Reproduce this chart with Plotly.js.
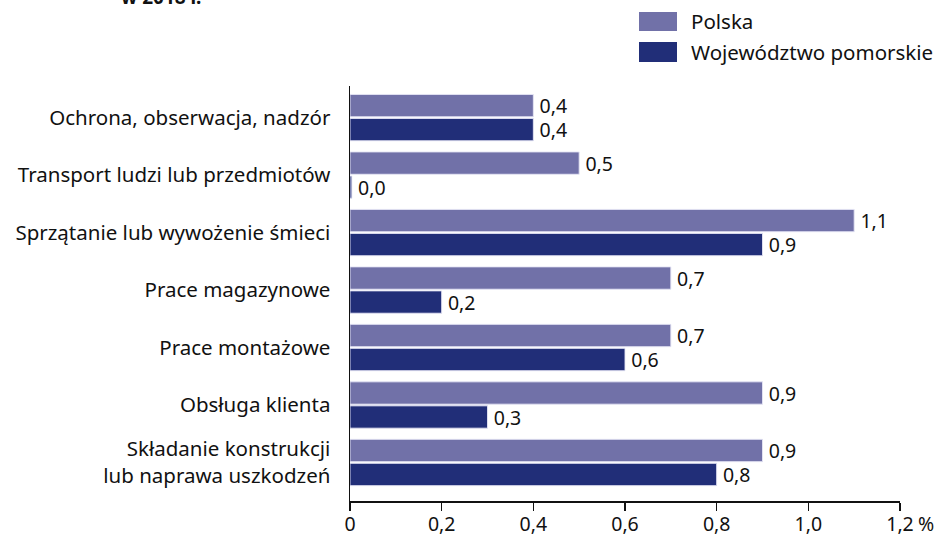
<!DOCTYPE html>
<html><head><meta charset="utf-8">
<script src="https://cdn.plot.ly/plotly-3.0.1.min.js"></script>
<style>html,body{margin:0;padding:0;background:#fff}#chart{width:939px;height:538px}</style>
</head><body><div id="chart"></div>
<script>
const categories = [
  "Ochrona, obserwacja, nadzór",
  "Transport ludzi lub przedmiotów",
  "Sprzątanie lub wywożenie śmieci",
  "Prace magazynowe",
  "Prace montażowe",
  "Obsługa klienta",
  "Składanie konstrukcji<br>lub naprawa uszkodzeń"
];
const polska = [0.4, 0.5, 1.1, 0.7, 0.7, 0.9, 0.9];
const pomorskie = [0.4, 0.004, 0.9, 0.2, 0.6, 0.3, 0.8];
const seriesNames = ["Polska", "Województwo pomorskie"];
const seriesColors = ["#7171a8", "#212e78"];
const tickVals = [0, 0.2, 0.4, 0.6, 0.8, 1.0, 1.2];
const tickText = ["0", "0,2", "0,4", "0,6", "0,8", "1,0", "1,2"];
const titleText = "w 2018 r.";

const FONT = "'Noto Sans', 'Open Sans', sans-serif";
const FS = 20.5;
const fmt = v => '\u2009' + v.toFixed(1).replace('.', ',');

function barTrace(vals, name, color) {
  return {
    type: 'bar', orientation: 'h', name: name,
    y: categories, x: vals,
    marker: {color: color, line: {color: 'rgba(230,230,245,0.9)', width: 1}},
    text: vals.map(fmt), textposition: 'outside', constraintext: 'none',
    cliponaxis: false,
    textfont: {family: FONT, size: 19.5, color: '#111'},
    hoverinfo: 'skip'
  };
}

const L = 350, R = 900, T = 86, B = 501;
const px = x => (x - L) / (R - L);
const py = y => (B - y) / (B - T);

const shapes = [
  {type: 'rect', xref: 'paper', yref: 'paper', x0: px(639), x1: px(677), y0: py(31), y1: py(12), fillcolor: seriesColors[0], line: {width: 0}},
  {type: 'rect', xref: 'paper', yref: 'paper', x0: px(639), x1: px(677), y0: py(62), y1: py(42), fillcolor: seriesColors[1], line: {width: 0}}
];
const annotations = [
  {xref: 'paper', yref: 'paper', x: px(689), y: py(21.5), xanchor: 'left', yanchor: 'middle', text: seriesNames[0], showarrow: false, font: {family: FONT, size: FS, color: '#111'}},
  {xref: 'paper', yref: 'paper', x: px(689), y: py(52), xanchor: 'left', yanchor: 'middle', text: seriesNames[1], showarrow: false, font: {family: FONT, size: FS, color: '#111'}},
  {xref: 'paper', yref: 'paper', x: px(916), y: py(523), xanchor: 'left', yanchor: 'middle', text: '%', showarrow: false, font: {family: FONT, size: 19.5, color: '#111'}},
  {xref: 'paper', yref: 'paper', x: px(119), y: py(12), xanchor: 'left', yanchor: 'bottom', text: '<b>' + titleText + '</b>', showarrow: false, font: {family: FONT, size: 19, color: '#111'}}
];

const layout = {
  width: 939, height: 538,
  margin: {l: L, r: 939 - R, t: T, b: 538 - B, pad: 0},
  paper_bgcolor: '#fff', plot_bgcolor: '#fff',
  barmode: 'group', bargap: 0.165, bargroupgap: 0.07,
  showlegend: false,
  font: {family: FONT, size: FS, color: '#111'},
  xaxis: {
    range: [0, 1.2], tickvals: tickVals, ticktext: tickText,
    showgrid: false, zeroline: false, showline: true, linecolor: '#111', linewidth: 1.5,
    ticks: 'outside', ticklen: 8, tickcolor: '#111', tickwidth: 1.2,
    ticklabelstandoff: -3,
    tickfont: {family: FONT, size: 19.5, color: '#111'}, fixedrange: true
  },
  yaxis: {
    type: 'category', range: [6.67, -0.55],
    showgrid: false, zeroline: false, showline: true, linecolor: '#111', linewidth: 1.5,
    ticks: '', ticklabelstandoff: 14,
    tickfont: {family: FONT, size: FS, color: '#111'}, fixedrange: true
  },
  shapes: shapes, annotations: annotations
};

Plotly.newPlot('chart', [barTrace(polska, seriesNames[0], seriesColors[0]), barTrace(pomorskie, seriesNames[1], seriesColors[1])], layout, {displayModeBar: false, staticPlot: true});
</script></body></html>
